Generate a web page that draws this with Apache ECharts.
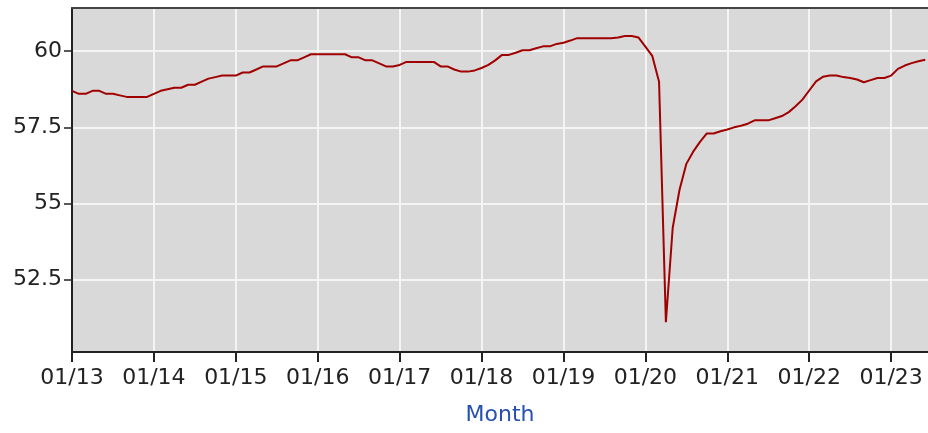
<!DOCTYPE html>
<html>
<head>
<meta charset="utf-8">
<script src="https://cdn.jsdelivr.net/npm/echarts@6/dist/echarts.min.js"></script>
<style>
html,body{margin:0;padding:0;background:#fff;}
#chart{width:928px;height:433px;}
</style>
</head>
<body>
<div id="chart"></div>
<script>
// Monthly observations, Jan 2013 .. Jun 2023
const startYear = 2013;
const values = [
  58.7, 58.6, 58.6, 58.7, 58.7, 58.6, 58.6, 58.55, 58.5, 58.5, 58.5, 58.5,   // 2013
  58.6, 58.7, 58.75, 58.8, 58.8, 58.9, 58.9, 59.0, 59.1, 59.15, 59.2, 59.2, // 2014
  59.2, 59.3, 59.3, 59.4, 59.5, 59.5, 59.5, 59.6, 59.7, 59.7, 59.8, 59.9,   // 2015
  59.9, 59.9, 59.9, 59.9, 59.9, 59.8, 59.8, 59.7, 59.7, 59.6, 59.5, 59.5,   // 2016
  59.55, 59.65, 59.65, 59.65, 59.65, 59.65, 59.5, 59.5, 59.4, 59.33, 59.33, 59.37, // 2017
  59.45, 59.55, 59.7, 59.88, 59.88, 59.95, 60.03, 60.03, 60.1, 60.16, 60.16, 60.24, // 2018
  60.28, 60.35, 60.43, 60.43, 60.43, 60.43, 60.43, 60.43, 60.45, 60.5, 60.5, 60.45, // 2019
  60.15, 59.85, 59.0, 51.1, 54.2, 55.45, 56.3, 56.7, 57.02, 57.3, 57.3, 57.37,      // 2020
  57.43, 57.5, 57.55, 57.62, 57.73, 57.73, 57.73, 57.8, 57.87, 58.0, 58.19, 58.41,  // 2021
  58.71, 59.01, 59.16, 59.2, 59.2, 59.15, 59.12, 59.07, 58.98, 59.05, 59.12, 59.12, // 2022
  59.2, 59.42, 59.53, 59.61, 59.67, 59.72                                          // 2023
];
const months = values.map((v, i) => {
  const y = startYear + Math.floor(i / 12);
  const m = (i % 12) + 1;
  return y + '-' + String(m).padStart(2, '0');
});
const xTickMonths = [0, 12, 24, 36, 48, 60, 72, 84, 96, 108, 120];
const xTickLabels = ['01/13','01/14','01/15','01/16','01/17','01/18','01/19','01/20','01/21','01/22','01/23'];
const yTicks = [52.5, 55, 57.5, 60];
const yTickLabels = ['52.5', '55', '57.5', '60'];

const data = months.map((m, i) => [i, values[i]]);

const chart = echarts.init(document.getElementById('chart'), null, {renderer: 'canvas'});
const font = 'DejaVu Sans, Verdana, sans-serif';
chart.setOption({
  animation: false,
  backgroundColor: '#ffffff',
  grid: {
    left: 72, right: 0, top: 8, bottom: 81,
    show: true, backgroundColor: '#d9d9d9', borderWidth: 0
  },
  xAxis: [{
    type: 'value',
    min: 0, max: 125.4,
    name: 'Month',
    nameLocation: 'middle',
    nameGap: 52,
    nameTextStyle: {color: '#2750b0', fontSize: 22, fontFamily: font},
    axisLine: {show: true, lineStyle: {color: '#222', width: 2}},
    axisTick: {show: true, length: 10, customValues: xTickMonths, lineStyle: {color: '#222', width: 2}},
    axisLabel: {
      customValues: xTickMonths,
      margin: 15,
      color: '#222', fontSize: 22, fontFamily: font,
      formatter: v => xTickLabels[xTickMonths.indexOf(Math.round(v))] || ''
    },
    splitLine: {show: true, lineStyle: {color: '#f4f4f4', width: 2}}
  }, {
    type: 'value', position: 'top', min: 0, max: 125.4,
    axisLine: {show: true, lineStyle: {color: '#444', width: 2}},
    axisTick: {show: false}, axisLabel: {show: false}, splitLine: {show: false}
  }],
  yAxis: {
    type: 'value',
    min: 50.12, max: 61.42,
    axisLine: {show: true, lineStyle: {color: '#222', width: 2}},
    axisTick: {show: true, length: 8, customValues: yTicks, lineStyle: {color: '#222', width: 1.5}},
    axisLabel: {
      customValues: yTicks,
      margin: 10,
      color: '#222', fontSize: 22, fontFamily: font,
      formatter: v => {
        const i = yTicks.findIndex(t => Math.abs(t - v) < 1e-6);
        return i >= 0 ? yTickLabels[i] : '';
      }
    },
    splitLine: {show: true, lineStyle: {color: '#f4f4f4', width: 2}}
  },
  series: [{
    type: 'line',
    data: data,
    showSymbol: false,
    symbol: 'none',
    lineStyle: {color: '#a00000', width: 2},
    clip: true
  }]
});
</script>
</body>
</html>
